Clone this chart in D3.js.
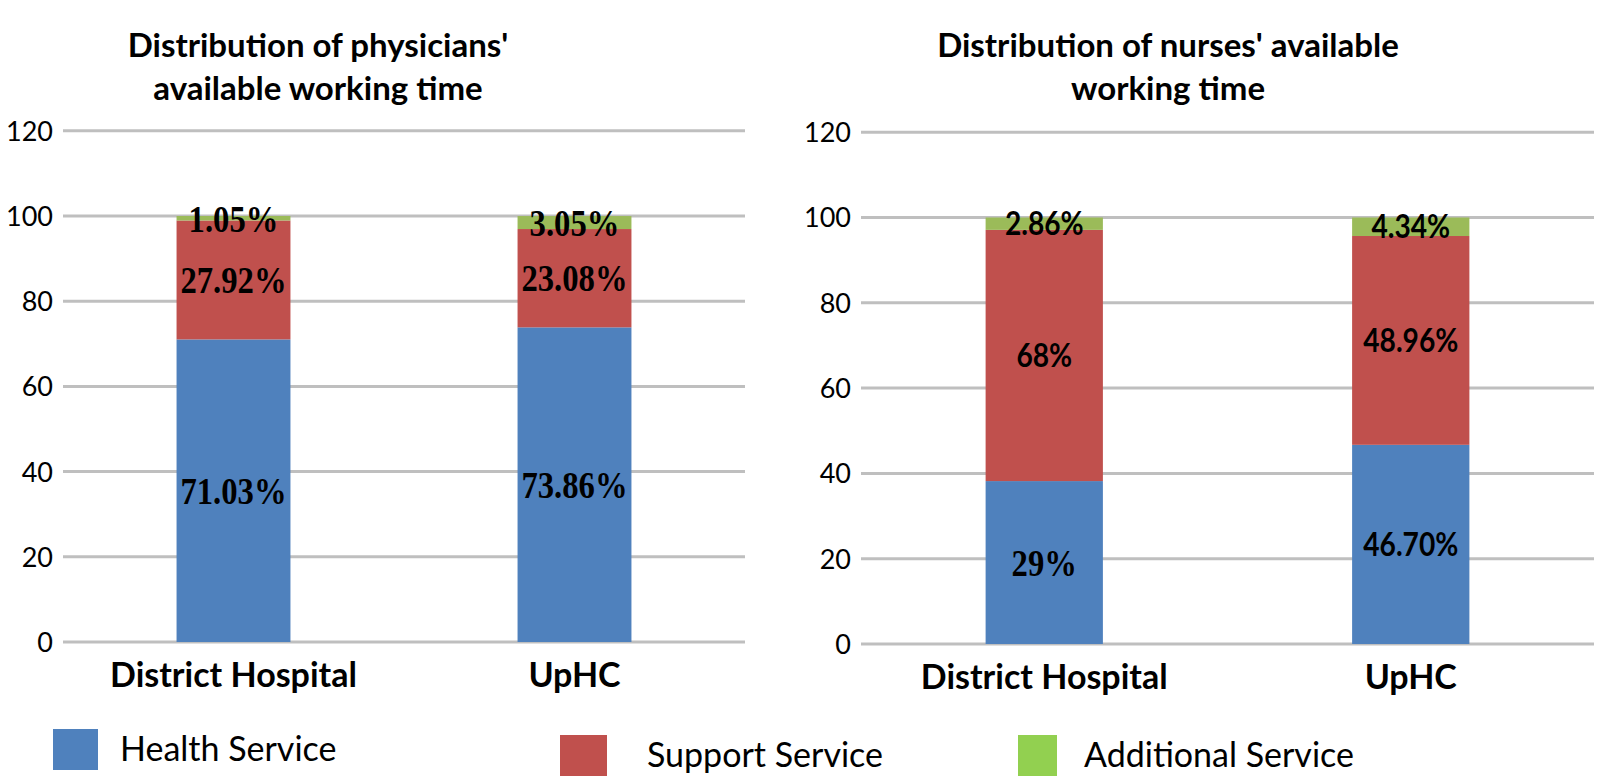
<!DOCTYPE html>
<html>
<head>
<meta charset="utf-8">
<script src="https://cdn.jsdelivr.net/npm/d3@7"></script>
<style>
  html, body { margin: 0; padding: 0; background: #fff; }
  svg { display: block; }
</style>
</head>
<body>
<svg id="chart" width="1600" height="777"></svg>
<script>
// ---------- DATA ----------
const categories = ["District Hospital", "UpHC"];
const seriesNames = ["Health Service", "Support Service", "Additional Service"];
const yTicks = [0, 20, 40, 60, 80, 100, 120];

// Physicians: segment heights (percent)
const physHealth = [71.03, 73.86];
const physSupport = [27.92, 23.08];
const physAdditional = [1.05, 3.05];
const physHealthLabels = ["71.03%", "73.86%"];
const physSupportLabels = ["27.92%", "23.08%"];
const physAdditionalLabels = ["1.05%", "3.05%"];

// Nurses: segment heights as drawn in the picture
const nurseHealth = [38.2, 46.70];
const nurseSupport = [58.9, 48.96];
const nurseAdditional = [2.9, 4.34];
const nurseHealthLabels = ["29%", "46.70%"];
const nurseSupportLabels = ["68%", "48.96%"];
const nurseAdditionalLabels = ["2.86%", "4.34%"];

const titlePhys = ["Distribution of physicians'", "available working time"];
const titleNurse = ["Distribution of nurses' available", "working time"];

// ---------- STYLE ----------
const colors = ["#4F81BD", "#C0504D", "#9BBB59"];
const legendColors = ["#4F81BD", "#C0504D", "#92D050"];
const sansFont = "Lato, 'Open Sans', sans-serif";
const serifFont = "'Liberation Serif', 'Times New Roman', serif";

const svg = d3.select("#chart");

function drawChart(cfg) {
  const g = svg.append("g");
  const x = d3.scaleBand().domain(categories)
    .range([cfg.x0, cfg.x1]).paddingInner(cfg.pi).paddingOuter(cfg.pi / 2);
  const y = d3.scaleLinear().domain([0, 120])
    .range([cfg.yZero, cfg.yZero - 1.2 * cfg.yPer100]);

  // gridlines
  g.selectAll("line.grid").data(yTicks).join("line")
    .attr("x1", cfg.x0).attr("x2", cfg.x1)
    .attr("y1", d => y(d)).attr("y2", d => y(d))
    .attr("stroke", "#BFBFBF").attr("stroke-width", 3);

  // y axis labels
  const yAxis = d3.axisLeft(y).tickValues(yTicks).tickSize(0).tickPadding(0);
  const ya = g.append("g").attr("transform", `translate(${cfg.x0 - 10},0)`).call(yAxis);
  ya.select(".domain").remove();
  ya.selectAll("text").attr("font-family", sansFont).attr("font-size", 27)
    .attr("fill", "#000").attr("dy", "0.35em");

  // stacked data
  const rows = categories.map((c, i) => ({
    cat: c,
    vals: cfg.series.map(s => s[i]),
    labels: cfg.labels.map(l => l[i])
  }));
  const segs = [];
  rows.forEach((r, ci) => {
    let base = 0;
    r.vals.forEach((v, si) => {
      segs.push({ cat: r.cat, ci, si, y0: base, y1: base + v, label: r.labels[si] });
      base += v;
    });
  });

  g.selectAll("rect.seg").data(segs).join("rect")
    .attr("x", d => x(d.cat)).attr("width", x.bandwidth())
    .attr("y", d => y(d.y1)).attr("height", d => y(d.y0) - y(d.y1))
    .attr("fill", d => colors[d.si]);

  g.selectAll("text.lbl").data(segs).join("text")
    .attr("transform", d => {
      const cx = x(d.cat) + x.bandwidth() / 2;
      const cy = (y(d.y0) + y(d.y1)) / 2;
      const serif = cfg.serifCell(d);
      return `translate(${cx},${cy}) scale(${serif ? 0.86 : 0.88},1)`;
    })
    .attr("text-anchor", "middle").attr("dy", "0.35em")
    .attr("font-weight", "bold")
    .attr("font-family", d => cfg.serifCell(d) ? serifFont : sansFont)
    .attr("font-size", d => cfg.serifCell(d) ? 38 : 32)
    .attr("fill", "#000")
    .text(d => d.label);

  // x axis category labels
  g.selectAll("text.cat").data(categories).join("text")
    .attr("x", d => x(d) + x.bandwidth() / 2).attr("y", cfg.yZero + 45)
    .attr("text-anchor", "middle").attr("font-family", sansFont)
    .attr("font-weight", "bold").attr("font-size", 34).attr("fill", "#000")
    .text(d => d);

  // title
  g.selectAll("text.title").data(cfg.title).join("text")
    .attr("x", cfg.titleX).attr("y", (d, i) => cfg.titleY + i * 43)
    .attr("text-anchor", "middle").attr("font-family", sansFont)
    .attr("font-weight", "bold").attr("font-size", 33).attr("fill", "#000")
    .text(d => d);
}

drawChart({
  x0: 63, x1: 745, yZero: 642, yPer100: 426, pi: 0.666,
  series: [physHealth, physSupport, physAdditional],
  labels: [physHealthLabels, physSupportLabels, physAdditionalLabels],
  serifCell: d => true,
  title: titlePhys, titleX: 318, titleY: 57
});

drawChart({
  x0: 861, x1: 1594, yZero: 644, yPer100: 426.5, pi: 0.68,
  series: [nurseHealth, nurseSupport, nurseAdditional],
  labels: [nurseHealthLabels, nurseSupportLabels, nurseAdditionalLabels],
  serifCell: d => d.ci === 0 && d.si === 0,
  title: titleNurse, titleX: 1168, titleY: 57
});

// legend
const legendX = [53, 560, 1018];
const legendY = [729, 735, 735];
const legendW = [45, 47, 39];
const leg = svg.append("g");
seriesNames.forEach((name, i) => {
  leg.append("rect").attr("x", legendX[i]).attr("y", legendY[i])
    .attr("width", legendW[i]).attr("height", 41).attr("fill", legendColors[i]);
  leg.append("text").attr("x", legendX[i] + legendW[i] + (i === 0 ? 22 : (i === 1 ? 40 : 27)))
    .attr("y", legendY[i] + 20).attr("dy", "0.35em")
    .attr("font-family", sansFont).attr("font-size", 34).attr("fill", "#000")
    .text(name);
});
</script>
</body>
</html>
